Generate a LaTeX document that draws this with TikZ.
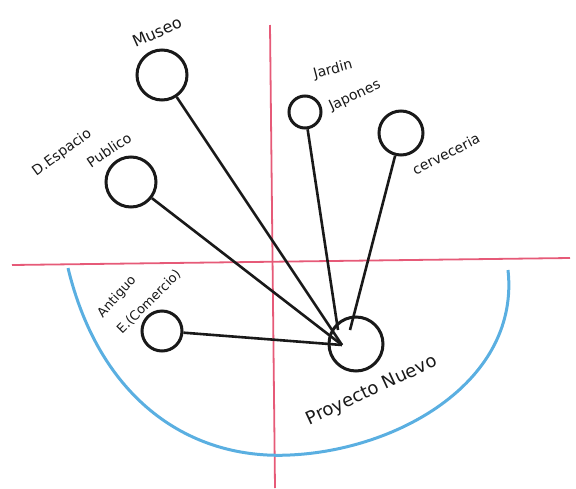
\documentclass[tikz,border=0pt]{standalone}
\usepackage{fontspec}
\setmainfont{DejaVu Sans}
\definecolor{pinkred}{RGB}{230,90,120}
\definecolor{skyblue}{RGB}{90,175,225}
\begin{document}
\begin{tikzpicture}[x=1pt,y=-1pt,
  site/.style={circle,draw=black!90,line width=3pt,inner sep=0pt},
  link/.style={draw=black!90,line width=2.6pt},
  lbl/.style={font=\fontsize{14}{17}\selectfont,text=black!90,inner sep=1pt},
  axis/.style={draw=pinkred,line width=1.8pt},
  zone/.style={draw=skyblue,line width=3pt}]
\useasboundingbox (0,0) rectangle (576,488);
% axes
\draw[axis] (12,265) -- (570,258);
\draw[axis] (270,25) -- (275,488);
% zone
\draw[zone] (68,268) .. controls (100,400) and (190,460) .. (290,455)
  .. controls (400,450) and (520,380) .. (508,270);
% sites
\node[site,minimum size=50pt] (museo) at (162,75) {};
\node[site,minimum size=32pt] (jardin) at (305,112) {};
\node[site,minimum size=44pt] (cerv) at (401,133) {};
\node[site,minimum size=50pt] (esp) at (131,182) {};
\node[site,minimum size=40pt] (ant) at (162,331) {};
\node[site,minimum size=54pt] (proy) at (356,344) {};
% links
\coordinate (hub) at (342,345);
\coordinate (hubj) at (338,330);
\coordinate (hubc) at (350,330);
\draw[link] (museo) -- (hub);
\draw[link] (jardin) -- (hubj);
\draw[link] (cerv) -- (hubc);
\draw[link] (esp) -- (hub);
\draw[link] (ant) -- (hub);
% labels
\node[lbl,rotate=24,font=\fontsize{16}{18}\selectfont] (lmuseo) at (157,32) {Museo};
\node[lbl,rotate=15] (ljardin1) at (333,70) {Jardin};
\node[lbl,rotate=25] (ljardin2) at (355,96) {Japones};
\node[lbl,rotate=27] (lcerv) at (446,154) {cerveceria};
\node[lbl,rotate=36] (lesp1) at (62,153) {D.Espacio};
\node[lbl,rotate=34] (lesp2) at (109,150) {Publico};
\node[lbl,rotate=48,font=\fontsize{13}{15}\selectfont] (lant1) at (117,297) {Antiguo};
\node[lbl,rotate=45,font=\fontsize{13}{15}\selectfont] (lant2) at (149,302) {E.(Comercio)};
\node[lbl,rotate=25,font=\fontsize{18}{20}\selectfont] (lproy) at (372,391) {Proyecto Nuevo};
\end{tikzpicture}
\end{document}
